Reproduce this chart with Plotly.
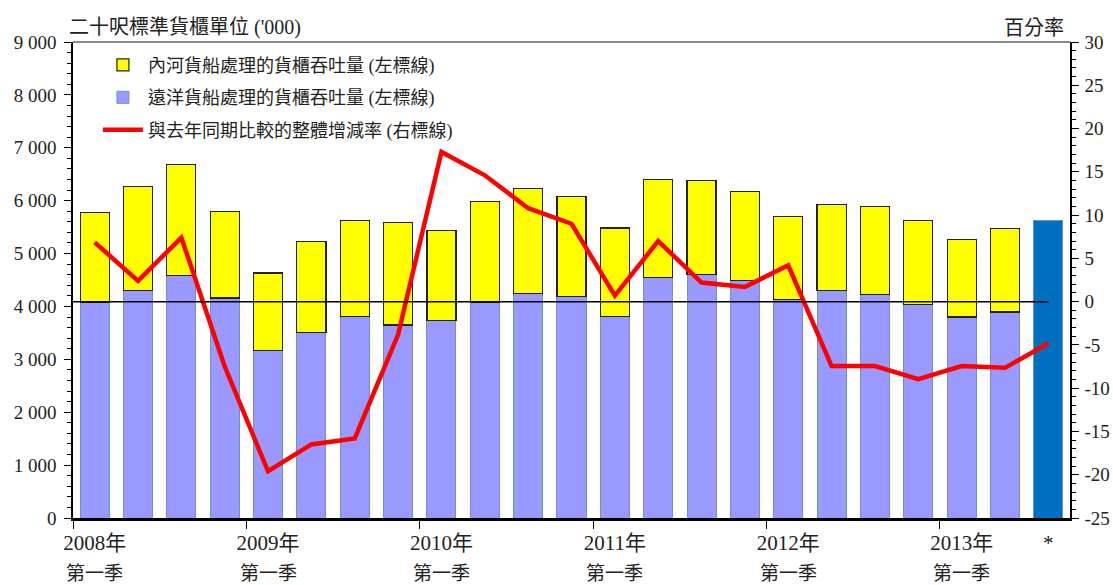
import plotly.graph_objects as go

# ---- data ----
year_labels = ["2008年", "2009年", "2010年", "2011年", "2012年", "2013年", "*"]
year_label_pos = [0, 4, 8, 12, 16, 20, 22]
quarter_label = "第一季"
quarter_label_pos = [0, 4, 8, 12, 16, 20]
slots = list(range(23))

ocean = [4070, 4305, 4580, 4160, 3170, 3500, 3805, 3650, 3730, 4085, 4250, 4185,
         3805, 4540, 4605, 4495, 4135, 4300, 4230, 4037, 3800, 3895, None]
total = [5772, 6264, 6687, 5792, 4632, 5225, 5622, 5584, 5439, 5981, 6233, 6075,
         5483, 6403, 6378, 6170, 5698, 5931, 5887, 5625, 5272, 5477, None]
river = [None if t is None else t - o for t, o in zip(total, ocean)]
prelim_total = [None] * 22 + [5625]
growth = [6.85, 2.4, 7.4, -7.5, -19.6, -16.5, -15.8, -3.8, 17.3, 14.6, 10.8, 9.0,
          0.7, 7.0, 2.2, 1.7, 4.2, -7.45, -7.45, -8.95, -7.45, -7.65, -4.8]

left_ticks = list(range(0, 9001, 1000))
left_text = ["0" if v == 0 else f"{v//1000} {v%1000:03d}" for v in left_ticks]
right_ticks = list(range(-25, 31, 5))
right_text = [str(v) for v in right_ticks]

FONT = ('Liberation Serif, Times New Roman, DejaVu Serif, Noto Serif, serif, '
        'Noto Sans CJK TC')

fig = go.Figure()
fig.add_trace(go.Bar(x=slots, y=ocean, name="遠洋貨船處理的貨櫃吞吐量 (左標線)",
                     marker=dict(color="#9999FF", line=dict(color="#6F8FC9", width=1)),
                     legendrank=2, legendgroup="b"))
fig.add_trace(go.Bar(x=slots, y=river, name="內河貨船處理的貨櫃吞吐量 (左標線)",
                     marker=dict(color="#FFFF00", line=dict(color="#222222", width=1.2)),
                     legendrank=1, legendgroup="a"))
fig.add_trace(go.Bar(x=slots, y=prelim_total, showlegend=False,
                     marker=dict(color="#0070C0", line=dict(color="#6F8FC9", width=1))))
fig.add_trace(go.Scatter(x=slots, y=growth, yaxis="y2", mode="lines",
                         name="與去年同期比較的整體增減率 (右標線)",
                         line=dict(color="#FF0000", width=4.5),
                         legendrank=3, legendgroup="c"))

annotations = [
    dict(text="二十呎標準貨櫃單位 ('000)", xref="paper", yref="paper", x=-0.006, y=1.0,
         xanchor="left", yanchor="bottom", showarrow=False, font=dict(size=20), yshift=1),
    dict(text="百分率", xref="paper", yref="paper", x=0.996, y=1.0,
         xanchor="right", yanchor="bottom", showarrow=False, font=dict(size=20), yshift=1),
]
for p in quarter_label_pos:
    annotations.append(dict(text=quarter_label, xref="x", yref="paper", x=p, y=0,
                            xanchor="center", yanchor="middle", yshift=-55,
                            showarrow=False, font=dict(size=19)))

fig.update_layout(
    width=1113, height=585,
    margin=dict(l=73, r=43, t=42, b=67, autoexpand=False),
    paper_bgcolor="white", plot_bgcolor="white",
    barmode="stack", bargap=0.33,
    font=dict(family=FONT, size=17, color="#222222"),
    showlegend=True,
    legend=dict(x=0.025, y=0.99, xanchor="left", yanchor="top",
                bgcolor="rgba(0,0,0,0)", font=dict(size=18),
                traceorder="grouped", tracegroupgap=6, itemwidth=40),
    xaxis=dict(range=[-0.5, 22.5], tickmode="array", tickvals=year_label_pos,
               ticktext=year_labels, ticks="", showline=True, linecolor="black",
               linewidth=2.5, showgrid=False, zeroline=False, automargin=False,
               tickfont=dict(size=21), ticklabelstandoff=4,
               minor=dict(tickmode="array", tickvals=[-0.5, 3.5, 7.5, 11.5, 15.5, 19.5],
                          ticks="outside", ticklen=8, tickcolor="black", tickwidth=1.2)),
    yaxis=dict(range=[0, 9000], tickmode="array", tickvals=left_ticks, ticktext=left_text,
               ticks="outside", ticklen=7, tickcolor="black", showline=True,
               linecolor="black", linewidth=1.5, showgrid=False, zeroline=False,
               automargin=False, tickfont=dict(size=19), ticklabelstandoff=4,
               minor=dict(dtick=200, tick0=0, ticks="outside", ticklen=4, tickcolor="black")),
    yaxis2=dict(range=[-25, 30], overlaying="y", side="right", tickmode="array",
                tickvals=right_ticks, ticktext=right_text, ticks="outside", ticklen=7,
                tickcolor="black", showline=True, linecolor="black", linewidth=1.5,
                showgrid=False, zeroline=False, automargin=False,
                tickfont=dict(size=19), ticklabelstandoff=2,
                minor=dict(dtick=1, tick0=0, ticks="outside", ticklen=4, tickcolor="black")),
    shapes=[
        dict(type="line", xref="x", yref="y2", x0=-0.5, x1=22, y0=0, y1=0,
             line=dict(color="black", width=1.5), layer="above"),
        dict(type="line", xref="paper", yref="paper", x0=0, x1=1, y0=1, y1=1,
             line=dict(color="#666666", width=1.5)),
    ],
    annotations=annotations,
)

fig.write_html("out.html",
               config={"displayModeBar": False},
               post_script="document.body.style.margin='0';"
                           "document.body.style.overflow='hidden';")
